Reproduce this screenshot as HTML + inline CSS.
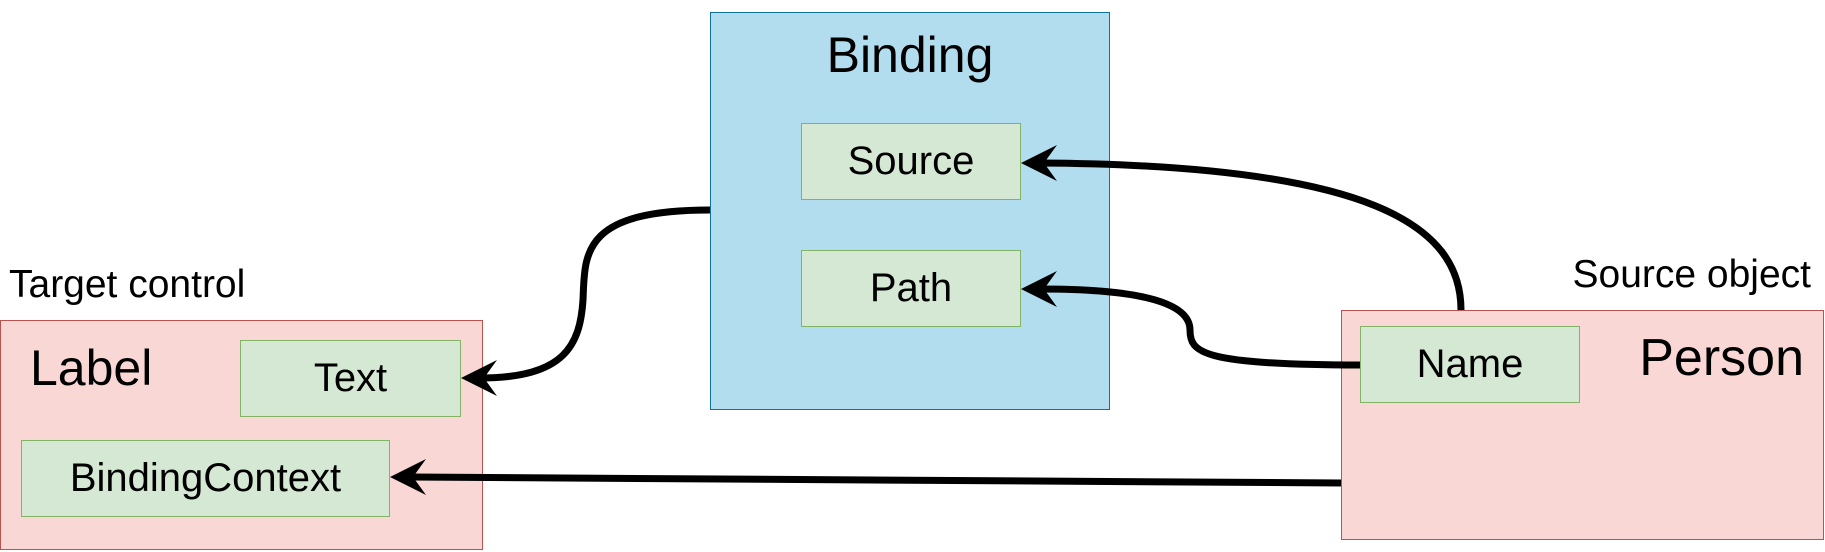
<!DOCTYPE html>
<html><head><style>
html,body{margin:0;padding:0;background:#fff;}
body{width:1825px;height:552px;position:relative;overflow:hidden;font-family:"Liberation Sans",sans-serif;}
.b{position:absolute;box-sizing:border-box;display:flex;align-items:center;justify-content:center;color:#000;}
.g{background:#d5e8d4;border:1px solid #82b366;font-size:40px;}
.r{background:#f8d7d5;border:1px solid #b85450;}
.t{position:absolute;color:#000;white-space:nowrap;}
</style></head><body>
<div class="b" style="left:710px;top:12px;width:400px;height:398px;background:#b1ddef;border:1px solid #10739e;"></div>
<div class="t" style="left:710px;width:400px;text-align:center;top:26px;font-size:50px;">Binding</div>
<div class="b g" style="left:801px;top:123px;width:220px;height:77px;">Source</div>
<div class="b g" style="left:801px;top:250px;width:220px;height:77px;">Path</div>
<div class="b r" style="left:0;top:320px;width:483px;height:230px;"></div>
<div class="t" style="left:9px;top:263px;font-size:39px;">Target control</div>
<div class="t" style="left:30px;top:339px;font-size:50px;">Label</div>
<div class="b g" style="left:240px;top:340px;width:221px;height:77px;">Text</div>
<div class="b g" style="left:21px;top:440px;width:369px;height:77px;">BindingContext</div>
<div class="b r" style="left:1341px;top:310px;width:483px;height:230px;"></div>
<div class="t" style="right:14px;top:253px;font-size:39px;">Source object</div>
<div class="t" style="right:21px;top:328px;font-size:52px;">Person</div>
<div class="b g" style="left:1360px;top:326px;width:220px;height:77px;">Name</div>
<svg width="1825" height="552" style="position:absolute;left:0;top:0">
<g fill="none" stroke="#000" stroke-width="7">
<path d="M710,210 C580,210 585,255 583,300 C580,345 565,378 480,378"/>
<path d="M1461,310 C1461,225 1370,165 1040,163"/>
<path d="M1360,365 C1200,365 1190,352 1190,330 C1190,300 1130,289 1040,289"/>
<path d="M1341,483 L410,477"/>
</g>
<g fill="#000">
<path d="M461,378 L497,360 L484,378 L497,396 Z"/>
<path d="M1021,163 L1057,145 L1044,163 L1057,181 Z"/>
<path d="M1021,289 L1057,271 L1044,289 L1057,307 Z"/>
<path d="M390,477 L426,459 L413,477 L426,495 Z"/>
</g>
</svg>
</body></html>
